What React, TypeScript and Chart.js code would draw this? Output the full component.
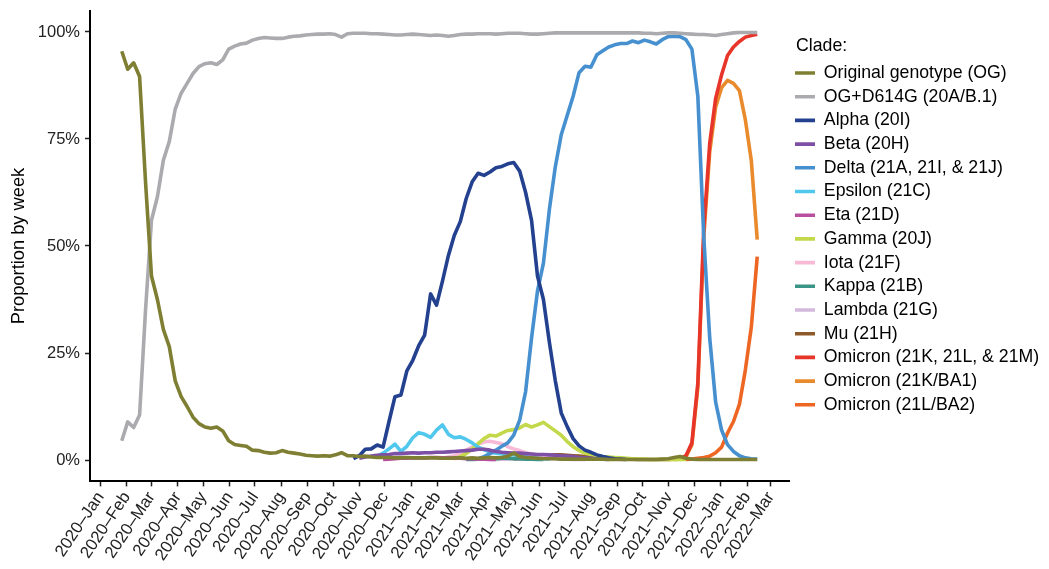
import React, { useEffect, useRef } from "react";
import { Chart, registerables } from "chart.js";

Chart.register(...registerables);

const FONT = '"Liberation Sans", Arial, Helvetica, sans-serif';

// Weekly series: first week = 2020-01-26 (day 25 of 2020), 108 weeks
const FIRST_WEEK_DAY = 25;
const WEEK_COUNT = 108;

const tickLabels = [
  "2020–Jan", "2020–Feb", "2020–Mar", "2020–Apr", "2020–May", "2020–Jun", "2020–Jul",
  "2020–Aug", "2020–Sep", "2020–Oct", "2020–Nov", "2020–Dec", "2021–Jan", "2021–Feb",
  "2021–Mar", "2021–Apr", "2021–May", "2021–Jun", "2021–Jul", "2021–Aug", "2021–Sep",
  "2021–Oct", "2021–Nov", "2021–Dec", "2022–Jan", "2022–Feb", "2022–Mar",
];
const monthNames = ["Jan", "Feb", "Mar", "Apr", "May", "Jun", "Jul", "Aug", "Sep", "Oct", "Nov", "Dec"];
const yTickValues = [0, 25, 50, 75, 100];

const legendTitle = "Clade:";
const yTitle = "Proportion by week";

// Proportions (%) per week
const ogValues = [
  95.5, 91.3, 92.8, 89.6, 65, 43, 37.5, 30.5, 26.5, 18.5,
  14.8, 12.5, 10, 8.5, 7.7, 7.4, 7.7, 6.8, 4.5, 3.6,
  3.4, 3.2, 2.3, 2.2, 1.8, 1.6, 1.7, 2.2, 1.8, 1.6,
  1.4, 1.1, 1.0, 0.9, 1.0, 0.9, 1.2, 1.7, 1.0, 1.0,
  0.8, 0.9, 0.7, 0.6, 0.6, 0.6, 0.5, 0.5, 0.6, 0.5,
  0.5, 0.5, 0.5, 0.5, 0.4, 0.4, 0.5, 0.5, 0.4, 0.5,
  0.4, 0.5, 0.6, 0.5, 0.6, 0.9, 1.6, 0.8, 0.6, 0.5,
  0.4, 0.3, 0.3, 0.3, 0.2, 0.2, 0.2, 0.2, 0.2, 0.2,
  0.2, 0.2, 0.1, 0.1, 0.1, 0.1, 0.1, 0.1, 0.1, 0.1,
  0.1, 0.2, 0.3, 0.6, 0.8, 0.4, 0.2, 0.1, 0.1, 0.1,
  0.1, 0.1, 0.1, 0.1, 0.1, 0.1, 0.1, 0.1,
];
const d614gValues = [
  4.5, 8.9, 7.6, 10.5, 35, 56, 61.5, 70, 74.4, 82,
  85.7, 88, 90.3, 91.9, 92.6, 92.8, 92.4, 93.5, 96, 96.7,
  97.2, 97.4, 98.1, 98.5, 98.7, 98.6, 98.5, 98.5, 98.8, 99.0,
  99.1, 99.3, 99.4, 99.5, 99.5, 99.6, 99.4, 98.8, 99.6, 99.7,
  99.7, 99.7, 99.6, 99.6, 99.5, 99.4, 99.3, 99.3, 99.4, 99.5,
  99.4, 99.3, 99.2, 99.3, 99.2, 99.0, 99.2, 99.4, 99.5, 99.5,
  99.6, 99.6, 99.6, 99.5, 99.6, 99.7, 99.7, 99.7, 99.6, 99.5,
  99.5, 99.6, 99.7, 99.8, 99.8, 99.8, 99.8, 99.8, 99.8, 99.8,
  99.8, 99.8, 99.8, 99.8, 99.8, 99.8, 99.8, 99.8, 99.7, 99.7,
  99.6, 99.7, 99.8, 99.8, 99.7, 99.6, 99.5, 99.4, 99.4, 99.3,
  99.2, 99.4, 99.6, 99.8, 99.9, 99.9, 99.9, 99.9,
];
const alphaStart = 39;
const alphaValues = [
  0.3, 1.0, 2.5, 2.6, 3.5, 3.0, 9, 14.8, 15.2, 20.8, 23.3, 26.7, 29.2, 38.8, 36.2, 41.8,
  47.8, 52.5, 55.7, 61.1, 65, 67, 66.5, 67.3, 68.3, 68.6, 69.2, 69.5, 67.5, 62.5, 56, 43,
  37.5, 27.5, 18.5, 11, 7.8, 5, 3.3, 2.3, 1.8, 1.2, 0.8, 0.5, 0.3, 0.2, 0.1,
];
const betaStart = 40;
const betaValues = [
  0.4, 0.7, 0.9, 1.1, 1.2, 1.3, 1.5, 1.5, 1.6, 1.7, 1.6, 1.7, 1.7, 1.8,
  1.8, 1.9, 2.0, 2.1, 2.2, 2.3, 2.5, 2.5, 2.3, 2.0, 1.8, 1.7, 1.6, 1.6, 1.5, 1.4,
  1.3, 1.3, 1.2, 1.1, 1.0, 0.9, 0.8, 0.6, 0.5, 0.4, 0.3, 0.2, 0.1,
];
const deltaStart = 60;
const deltaValues = [
  0.3, 0.8, 1.5, 2.3, 3.2, 4.0, 5.8, 9.3, 16, 28.5, 39.5, 46, 58.5, 68.5, 76, 80.5,
  85, 90.5, 92, 91.8, 94.7, 95.6, 96.5, 97, 97.3, 97.3, 97.9, 97.5, 98.1, 97.7, 97.2, 98.2,
  98.9, 99, 98.9, 98.2, 96, 85, 52, 28.5, 13.5, 7, 3.6, 2, 1, 0.5, 0.3, 0.2,
];
const epsilonStart = 43;
const epsilonValues = [
  0.8, 1.6, 2.6, 3.7, 2.0, 3.2, 5.2, 6.4, 6.0, 5.3, 7.0, 8.2, 6.0, 5.2, 5.4, 4.8,
  4.0, 3.0, 2.4, 1.9, 1.6, 1.4, 1.3, 1.2, 1.0, 0.8, 0.6, 0.4, 0.3, 0.2,
];
const etaStart = 44;
const etaValues = [
  0.1, 0.2, 0.3, 0.4, 0.4, 0.5, 0.5, 0.5, 0.6, 0.6, 0.5, 0.5, 0.4, 0.4, 0.3, 0.3, 0.2, 0.2, 0.1, 0.1,
];
const gammaStart = 56;
const gammaValues = [
  0.3, 0.8, 1.5, 2.6, 3.8, 5.0, 5.8, 5.6, 6.3, 6.9, 7.1, 7.5, 8.3, 7.7, 8.2, 8.8,
  7.8, 6.8, 5.8, 4.3, 3.1, 2.2, 1.6, 1.3, 1.0, 0.8, 0.7, 0.6, 0.5, 0.4, 0.3, 0.2,
  0.2, 0.1, 0.1, 0.1, 0.1, 0.1, 0.1, 0.1,
];
const iotaStart = 54;
const iotaValues = [
  0.4, 0.7, 1.0, 1.5, 2.3, 3.0, 3.7, 4.2, 4.4, 4.1, 3.8, 3.1, 2.6, 2.2, 1.7, 1.4,
  1.1, 0.8, 0.6, 0.4, 0.3, 0.2,
];
const kappaStart = 58;
const kappaValues = [0.1, 0.1, 0.2, 0.2, 0.3, 0.3, 0.4, 0.4, 0.3, 0.3, 0.2, 0.2, 0.1, 0.1];
const lambdaStart = 62;
const lambdaValues = [0.1, 0.1, 0.2, 0.2, 0.3, 0.3, 0.4, 0.4, 0.4, 0.4, 0.3, 0.3, 0.2, 0.2, 0.1, 0.1, 0.1];
const muStart = 66;
const muValues = [
  0.2, 0.3, 0.4, 0.6, 0.8, 1.0, 1.1, 1.2, 1.2, 1.1, 1.0, 0.9, 0.8, 0.7, 0.6, 0.5,
  0.4, 0.3, 0.3, 0.2, 0.2, 0.1, 0.1, 0.1, 0.1, 0.1, 0.1,
];
const omicronStart = 92;
const omicronValues = [0.1, 0.2, 0.3, 1.0, 4, 18, 54, 74, 84.5, 90, 94.5, 96.5, 97.8, 98.8, 99.2, 99.5];
const ba1Start = 93;
const ba1Values = [0.1, 0.2, 0.8, 3.5, 17, 52, 72, 82.5, 87, 88.7, 88, 86.3, 79.5, 70, 51.5];
const ba2Start = 95;
const ba2Values = [0.1, 0.2, 0.4, 0.6, 0.9, 1.7, 3.0, 6.3, 9.0, 13, 21, 31, 47.5];

const cladeNames = [
  "Original genotype (OG)", "OG+D614G (20A/B.1)", "Alpha (20I)", "Beta (20H)",
  "Delta (21A, 21I, & 21J)", "Epsilon (21C)", "Eta (21D)", "Gamma (20J)", "Iota (21F)",
  "Kappa (21B)", "Lambda (21G)", "Mu (21H)", "Omicron (21K, 21L, & 21M)",
  "Omicron (21K/BA1)", "Omicron (21L/BA2)",
];
const cladeColors = [
  "#7f7f33", "#ababaf", "#23418f", "#7d50a6", "#4690d0", "#50c7ec", "#b84f9f",
  "#c3d84a", "#f7b9d5", "#3a9587", "#d3b9dd", "#8f5a2a", "#e8352a", "#e98a2c", "#ee6624",
];

const pad = (start: number, vals: number[]) =>
  Array.from({ length: WEEK_COUNT }, (_, i) =>
    i >= start && i - start < vals.length ? vals[i - start] : null
  );

const cladeSeries = [
  pad(0, ogValues), pad(0, d614gValues), pad(alphaStart, alphaValues), pad(betaStart, betaValues),
  pad(deltaStart, deltaValues), pad(epsilonStart, epsilonValues), pad(etaStart, etaValues),
  pad(gammaStart, gammaValues), pad(iotaStart, iotaValues), pad(kappaStart, kappaValues),
  pad(lambdaStart, lambdaValues), pad(muStart, muValues), pad(omicronStart, omicronValues),
  pad(ba1Start, ba1Values), pad(ba2Start, ba2Values),
];

const weekDays = Array.from({ length: WEEK_COUNT }, (_, i) => FIRST_WEEK_DAY + 7 * i);
const DAY0 = Date.UTC(2020, 0, 1);
const tickDays = tickLabels.map((l) => {
  const [y, m] = l.split("–");
  return (Date.UTC(+y, monthNames.indexOf(m), 1) - DAY0) / 86400000;
});

const xSpan = weekDays[weekDays.length - 1] - weekDays[0];
const xMin = weekDays[0] - 0.05 * xSpan;
const xMax = weekDays[weekDays.length - 1] + 0.05 * xSpan;

const legendTitlePlugin = {
  id: "legendTitleText",
  afterDraw(chart: any) {
    const lg = chart.legend;
    if (!lg) return;
    const ctx = chart.ctx;
    ctx.save();
    ctx.font = `17.7px ${FONT}`;
    ctx.fillStyle = "#000";
    ctx.textAlign = "left";
    ctx.textBaseline = "middle";
    ctx.fillText(legendTitle, lg.left + 7, lg.top + 35.4);
    ctx.restore();
  },
};

export default function App() {
  const ref = useRef<HTMLCanvasElement | null>(null);
  useEffect(() => {
    if (!ref.current) return;
    Chart.defaults.font.family = FONT;
    const chart = new Chart(ref.current, {
      type: "line",
      data: {
        datasets: cladeNames.map((name, k) => ({
          label: name,
          data: weekDays.map((d, i) => ({ x: d, y: cladeSeries[k][i] })),
          borderColor: cladeColors[k],
          backgroundColor: cladeColors[k],
          borderWidth: 3.6,
          pointRadius: 0,
          pointHoverRadius: 0,
          tension: 0,
          fill: false,
          spanGaps: false,
          borderCapStyle: "butt",
          borderJoinStyle: "round",
        })),
      },
      options: {
        animation: false,
        responsive: false,
        devicePixelRatio: 1,
        layout: { padding: { top: 10.6, left: 0, right: 0, bottom: 0 } },
        plugins: {
          tooltip: { enabled: false },
          legend: {
            display: true,
            position: "right",
            align: "start",
            maxWidth: 260,
            title: { display: true, text: "", padding: { top: 26.5, bottom: 1.6 }, font: { size: 17.7, lineHeight: 1.1 } },
            labels: {
              usePointStyle: true,
              pointStyle: "line",
              pointStyleWidth: 20,
              padding: 6,
              color: "#000",
              font: { size: 17.7, family: FONT },
            },
          },
        },
        scales: {
          x: {
            type: "linear",
            min: xMin,
            max: xMax,
            afterBuildTicks: (s: any) => {
              s.ticks = tickDays.map((v) => ({ value: v }));
            },
            afterFit: (s: any) => {
              s.height = 569 - 481.4;
              s.paddingLeft = 0;
              s.paddingRight = 0;
            },
            ticks: {
              autoSkip: false,
              minRotation: 56,
              maxRotation: 56,
              padding: 2,
              color: "#222",
              font: { size: 16.8, family: FONT },
              callback: (_v: any, i: number) => tickLabels[i],
            },
            grid: { drawOnChartArea: false, drawTicks: true, tickLength: 5, tickColor: "#222", tickWidth: 1.5 },
            border: { display: true, color: "#000", width: 2 },
          },
          y: {
            type: "linear",
            min: -5,
            max: 105,
            afterBuildTicks: (s: any) => {
              s.ticks = yTickValues.map((v) => ({ value: v }));
            },
            afterFit: (s: any) => {
              s.width = 90;
              s.paddingTop = 0;
              s.paddingBottom = 0;
            },
            ticks: {
              padding: 5,
              color: "#222",
              font: { size: 16.5, family: FONT },
              callback: (v: any) => `${v}%`,
            },
            title: {
              display: true,
              text: yTitle,
              color: "#000",
              font: { size: 18.3, family: FONT },
              padding: { top: 8, bottom: 0 },
            },
            grid: { drawOnChartArea: false, drawTicks: true, tickLength: 5, tickColor: "#222", tickWidth: 1.5 },
            border: { display: true, color: "#000", width: 2 },
          },
        },
      } as any,
      plugins: [legendTitlePlugin],
    });
    return () => chart.destroy();
  }, []);

  return (
    <div style={{ position: "fixed", left: 0, top: 0, width: 1049, height: 569, background: "#fff" }}>
      <canvas ref={ref} width={1049} height={569} style={{ display: "block", width: 1049, height: 569 }} />
    </div>
  );
}
